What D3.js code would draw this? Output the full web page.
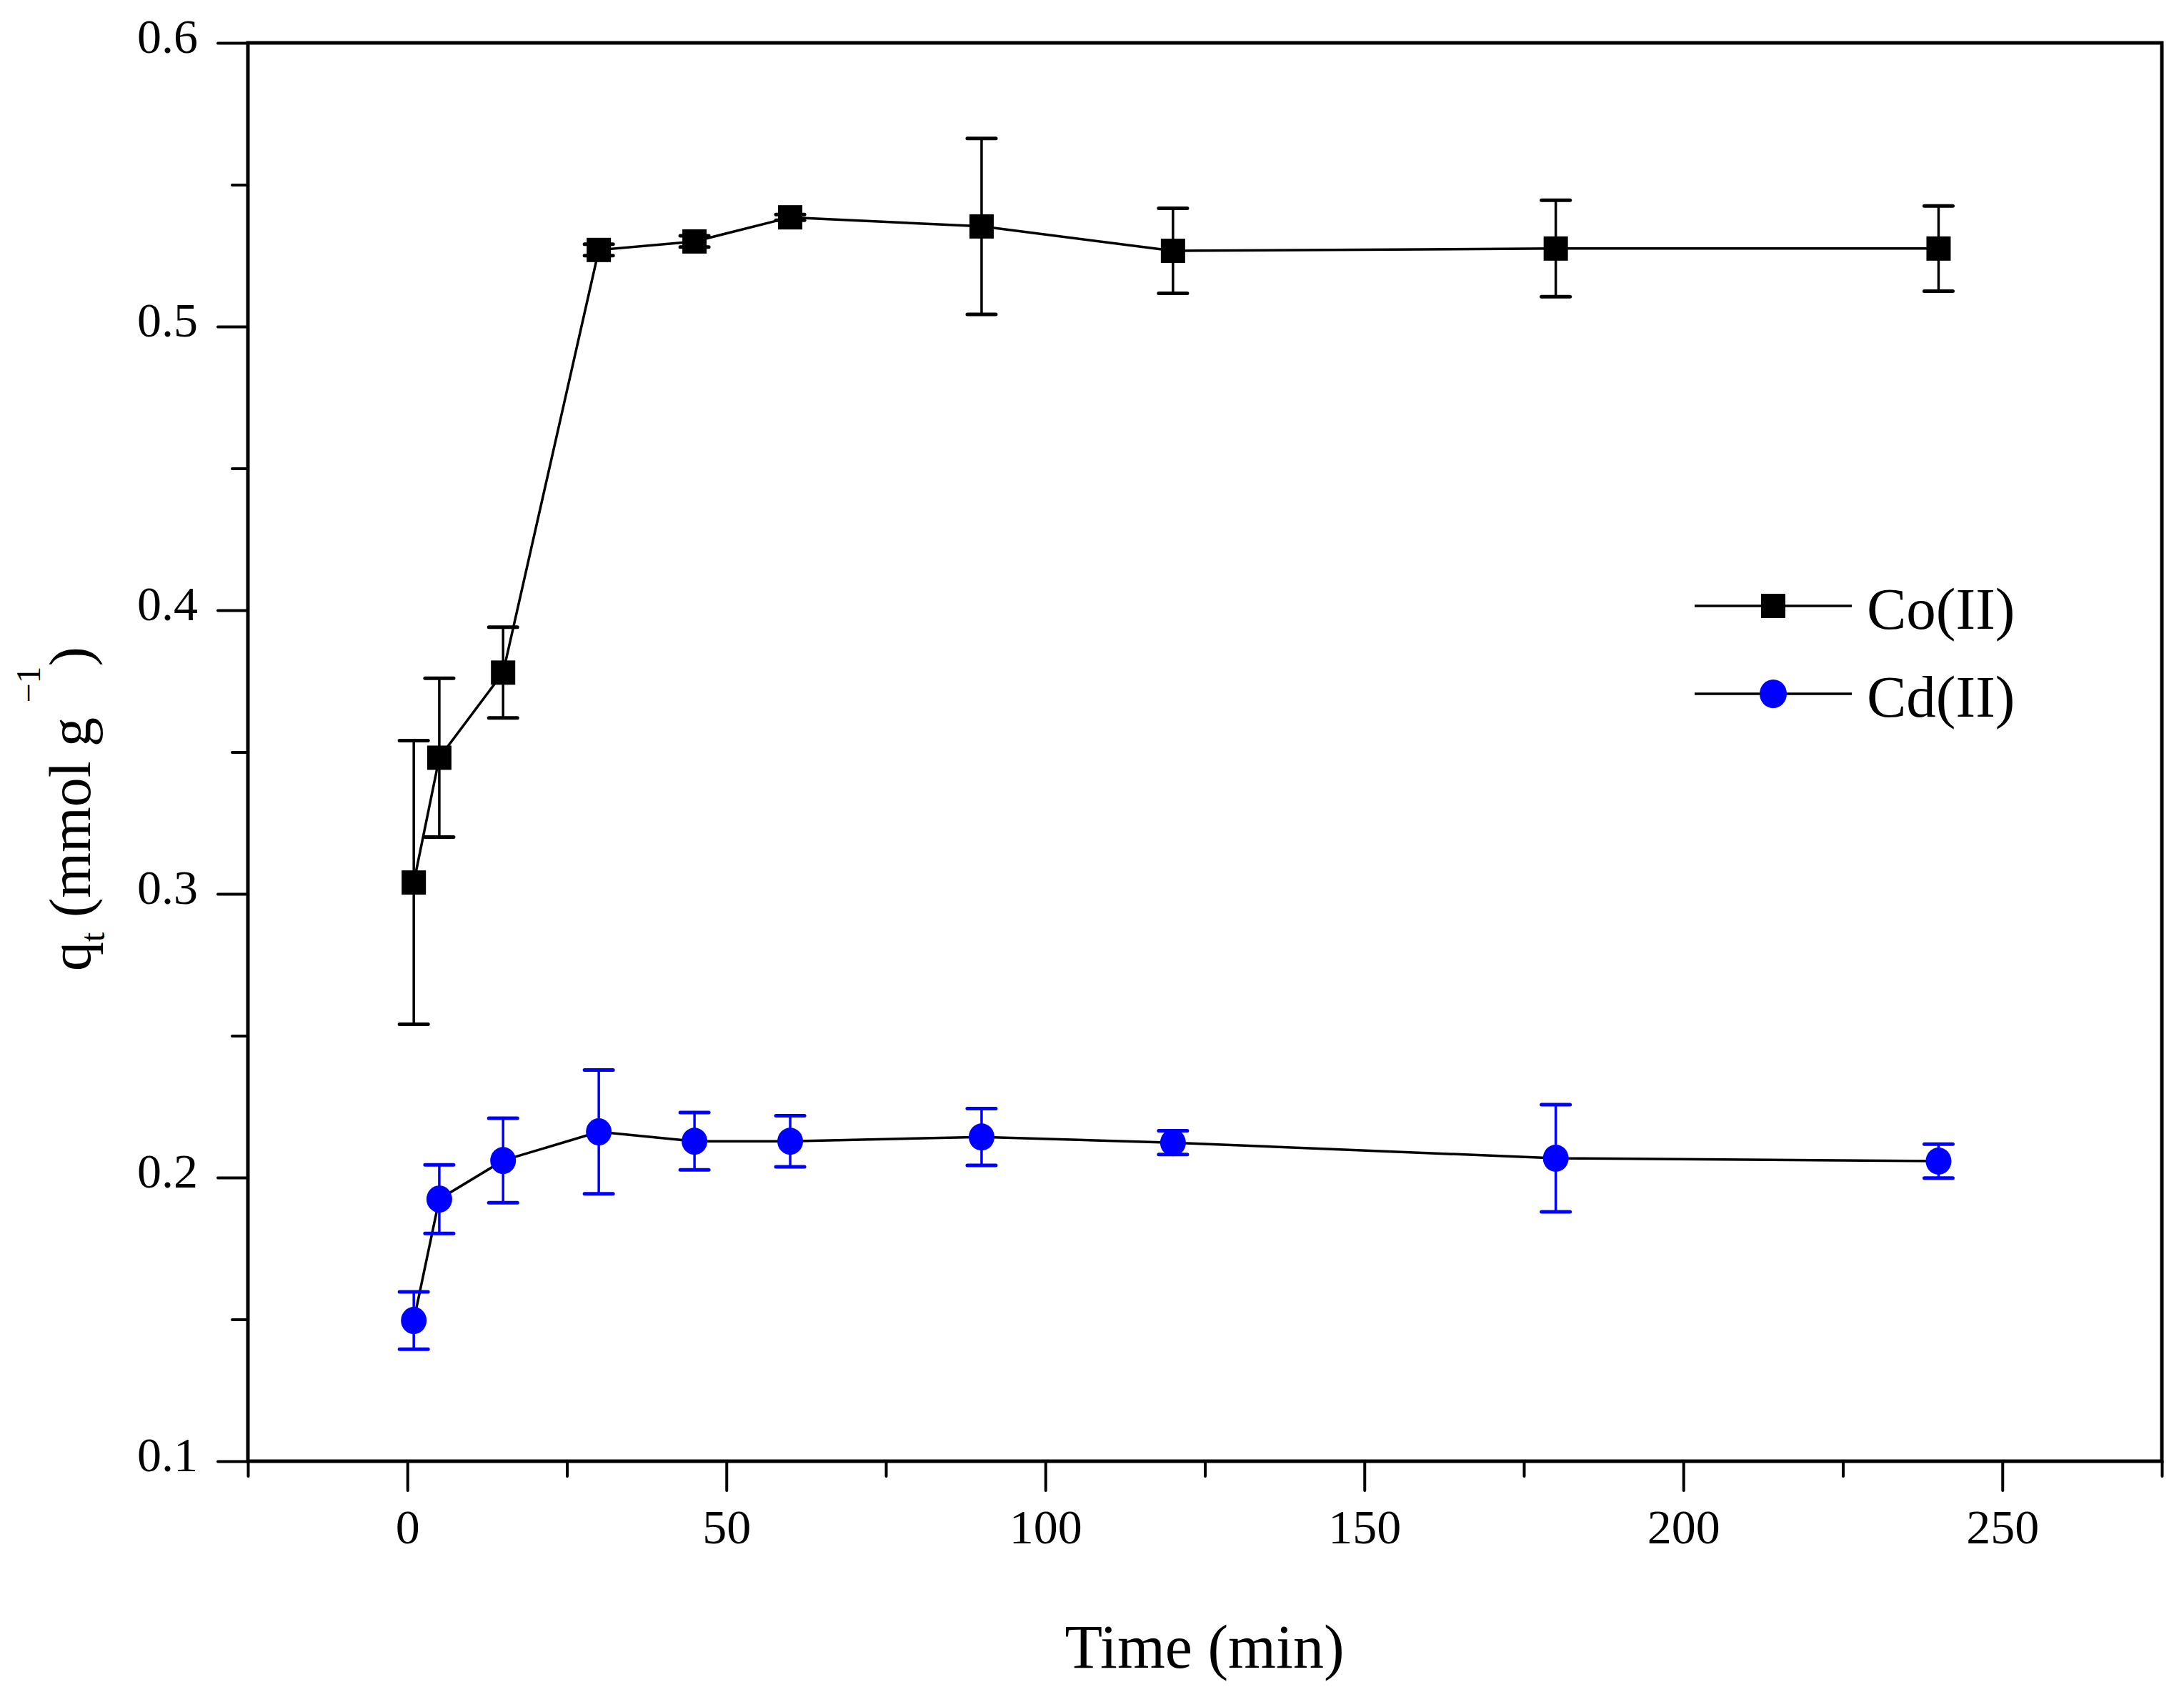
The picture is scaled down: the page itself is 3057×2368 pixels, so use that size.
<!DOCTYPE html>
<html>
<head>
<meta charset="utf-8">
<script src="https://cdn.jsdelivr.net/npm/d3@7"></script>
<style>
  body { margin: 0; background: #fff; }
  svg { display: block; font-family: "Liberation Serif", "DejaVu Serif", serif; }
</style>
</head>
<body>
<svg id="chart"></svg>
<script>
var time = [1, 5, 15, 30, 45, 60, 90, 120, 180, 240];

var coValues = [0.304, 0.348, 0.378, 0.527, 0.530, 0.5385, 0.5353, 0.5267, 0.5275, 0.5275];
var coErrors = [0.050, 0.028, 0.016, 0.002, 0.002, 0.001, 0.031, 0.015, 0.017, 0.015];

var cdValues = [0.1496, 0.1924, 0.206, 0.2161, 0.2128, 0.2128, 0.2143, 0.2123, 0.2068, 0.2058];
var cdErrors = [0.0101, 0.0121, 0.0149, 0.0218, 0.0101, 0.009, 0.0100, 0.0042, 0.0189, 0.006];

var seriesNames = ['Co(II)', 'Cd(II)'];

var xMajor = [0, 50, 100, 150, 200, 250];
var xMinor = [-25, 25, 75, 125, 175, 225, 275];
var yMajor = [0.1, 0.2, 0.3, 0.4, 0.5, 0.6];
var yMinor = [0.15, 0.25, 0.35, 0.45, 0.55];

var chartW = 3057,
  chartH = 2368,
  plotLeft = 347,
  plotRight = 3026,
  plotTop = 60,
  plotBottom = 2045;

var svg = d3.select('#chart')
  .attr('width', chartW)
  .attr('height', chartH);

svg.append('rect')
  .attr('width', chartW)
  .attr('height', chartH)
  .attr('fill', '#fff');

var x = d3.scaleLinear().domain([-25, 275]).range([plotLeft, plotRight]);
var y = d3.scaleLinear().domain([0.1, 0.6]).range([plotBottom, plotTop]);

function styleAxis(g, fontSize) {
  g.attr('font-family', null).attr('font-size', null);
  g.select('.domain').remove();
  g.selectAll('.tick line').attr('stroke', '#000').attr('stroke-width', 4).attr('stroke-linecap', 'round');
  g.selectAll('.tick text').attr('fill', '#000').style('font-size', fontSize + 'px');
}

// x axis, major + minor
var gx = svg.append('g')
  .attr('transform', 'translate(0,' + plotBottom + ')')
  .call(d3.axisBottom(x).tickValues(xMajor).tickSize(41).tickPadding(26).tickFormat(d3.format('d')));
styleAxis(gx, 68);

var gxm = svg.append('g')
  .attr('transform', 'translate(0,' + plotBottom + ')')
  .call(d3.axisBottom(x).tickValues(xMinor).tickSize(21).tickFormat(''));
styleAxis(gxm, 10);

// y axis
var gy = svg.append('g')
  .attr('transform', 'translate(' + plotLeft + ',0)')
  .call(d3.axisLeft(y).tickValues(yMajor).tickSize(42).tickPadding(28).tickFormat(d3.format('.1f')));
styleAxis(gy, 68);
gy.selectAll('.tick text').attr('dy', '0.2em');

var gym = svg.append('g')
  .attr('transform', 'translate(' + plotLeft + ',0)')
  .call(d3.axisLeft(y).tickValues(yMinor).tickSize(22).tickFormat(''));
styleAxis(gym, 10);

// frame
svg.append('rect')
  .attr('x', plotLeft)
  .attr('y', plotTop)
  .attr('width', plotRight - plotLeft)
  .attr('height', plotBottom - plotTop)
  .attr('fill', 'none')
  .attr('stroke', '#000')
  .attr('stroke-width', 5);

var line = d3.line()
  .x(function(d) { return x(d.t); })
  .y(function(d) { return y(d.v); });

function makeRows(values, errors) {
  return time.map(function(t, i) {
    return { t: t, v: values[i], e: errors[i] };
  });
}

var coRows = makeRows(coValues, coErrors);
var cdRows = makeRows(cdValues, cdErrors);

function drawSeries(rows, color, shape) {
  var g = svg.append('g');

  g.append('path')
    .datum(rows)
    .attr('d', line)
    .attr('fill', 'none')
    .attr('stroke', '#000')
    .attr('stroke-width', 3.5);

  var bars = g.selectAll('.err')
    .data(rows)
    .enter()
    .append('g')
    .attr('stroke', color)
    .attr('stroke-width', 3.5);

  bars.append('line')
    .attr('x1', function(d) { return x(d.t); })
    .attr('x2', function(d) { return x(d.t); })
    .attr('y1', function(d) { return y(d.v + d.e); })
    .attr('y2', function(d) { return y(d.v - d.e); });

  [1, -1].forEach(function(s) {
    bars.append('line')
      .attr('stroke-width', 5)
      .attr('stroke-linecap', 'round')
      .attr('x1', function(d) { return x(d.t) - 20; })
      .attr('x2', function(d) { return x(d.t) + 20; })
      .attr('y1', function(d) { return y(d.v + s * d.e); })
      .attr('y2', function(d) { return y(d.v + s * d.e); });
  });

  if (shape === 'square') {
    g.selectAll('.mark')
      .data(rows)
      .enter()
      .append('rect')
      .attr('x', function(d) { return x(d.t) - 17; })
      .attr('y', function(d) { return y(d.v) - 17; })
      .attr('width', 34)
      .attr('height', 34)
      .attr('fill', color);
  } else {
    g.selectAll('.mark')
      .data(rows)
      .enter()
      .append('ellipse')
      .attr('cx', function(d) { return x(d.t); })
      .attr('cy', function(d) { return y(d.v); })
      .attr('rx', 18)
      .attr('ry', 19)
      .attr('fill', color);
  }
}

drawSeries(coRows, '#000', 'square');
drawSeries(cdRows, '#0000ff', 'circle');

// legend
var legend = svg.append('g');
var legendY = [848, 971];
seriesNames.forEach(function(name, i) {
  var ly = legendY[i];
  legend.append('line')
    .attr('x1', 2372).attr('x2', 2592)
    .attr('y1', ly).attr('y2', ly)
    .attr('stroke', '#000')
    .attr('stroke-width', 3.5);
  if (i === 0) {
    legend.append('rect')
      .attr('x', 2482 - 17).attr('y', ly - 17)
      .attr('width', 34).attr('height', 34)
      .attr('fill', '#000');
  } else {
    legend.append('ellipse')
      .attr('cx', 2482).attr('cy', ly)
      .attr('rx', 19).attr('ry', 20)
      .attr('fill', '#0000ff');
  }
  legend.append('text')
    .attr('x', 2613)
    .attr('y', ly + 32)
    .style('font-size', '83px')
    .text(name);
});

// axis titles
svg.append('text')
  .attr('x', 1686)
  .attr('y', 2334)
  .attr('text-anchor', 'middle')
  .style('font-size', '86px')
  .text('Time (min)');

var yTitle = svg.append('text')
  .attr('transform', 'translate(126,1132) rotate(-90)')
  .attr('text-anchor', 'middle')
  .style('font-size', '82px');
yTitle.append('tspan').text('q');
yTitle.append('tspan').attr('dy', 20).style('font-size', '48px').text('t');
yTitle.append('tspan').attr('dy', -20).text(' (mmol g ');
yTitle.append('tspan').attr('dy', -70).style('font-size', '48px').text('\u22121');
yTitle.append('tspan').attr('dy', 70).text(')');
</script>
</body>
</html>
